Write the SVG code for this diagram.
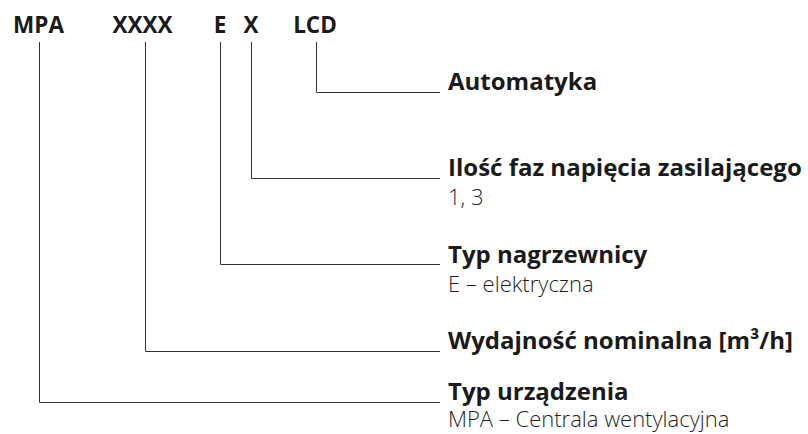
<svg xmlns="http://www.w3.org/2000/svg" width="808" height="434" viewBox="0 0 808 434">
  <style>
    .code { font-family: "Open Sans", "Noto Sans", sans-serif; font-weight: bold; font-size: 22.5px; fill: #1a1a1a; text-anchor: middle; }
    .title { font-family: "Open Sans", "Noto Sans", sans-serif; font-weight: bold; font-size: 24px; fill: #1a1a1a; }
    .desc { font-family: "Open Sans", "Noto Sans", sans-serif; font-weight: 300; font-size: 22px; fill: #1f1f1f; }
    .lead { fill: none; stroke: #333; stroke-width: 1; }
  </style>
  <rect width="808" height="434" fill="#fff"/>

  <!-- code segments -->
  <g id="seg-mpa"><text class="code" x="38.5" y="33">MPA</text></g>
  <g id="seg-xxxx"><text class="code" x="142.5" y="33">XXXX</text></g>
  <g id="seg-e"><text class="code" x="220" y="33">E</text></g>
  <g id="seg-x"><text class="code" x="251" y="33">X</text></g>
  <g id="seg-lcd"><text class="code" x="315" y="33">LCD</text></g>

  <!-- leader lines -->
  <g id="connectors">
    <polyline class="lead" points="316.5,42 316.5,92.5 440,92.5"/>
    <polyline class="lead" points="251.5,42 251.5,178.5 440,178.5"/>
    <polyline class="lead" points="220.5,42 220.5,264.5 440,264.5"/>
    <polyline class="lead" points="145.5,42 145.5,351.5 440,351.5"/>
    <polyline class="lead" points="39.5,42 39.5,402.5 440,402.5"/>
  </g>

  <!-- descriptions -->
  <g id="desc-automatyka"><text class="title" x="448" y="90">Automatyka</text></g>
  <g id="desc-fazy">
    <text class="title" x="448" y="175.5">Ilość faz napięcia zasilającego</text>
    <text class="desc" x="448" y="205">1, 3</text>
  </g>
  <g id="desc-nagrzewnica">
    <text class="title" x="448" y="263">Typ nagrzewnicy</text>
    <text class="desc" x="448" y="292">E – elektryczna</text>
  </g>
  <g id="desc-wydajnosc">
    <text class="title" x="448" y="349">Wydajność nominalna [m³/h]</text>
  </g>
  <g id="desc-typ">
    <text class="title" x="448" y="399.5">Typ urządzenia</text>
    <text class="desc" x="448" y="427">MPA – Centrala wentylacyjna</text>
  </g>
</svg>
